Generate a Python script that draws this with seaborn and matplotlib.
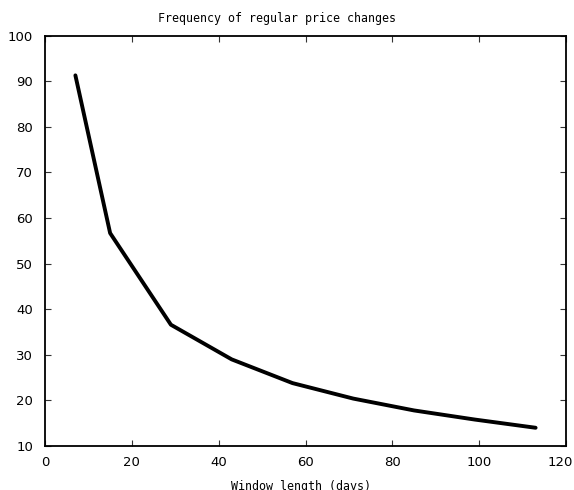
import matplotlib
matplotlib.use("Agg")
import matplotlib.pyplot as plt
import matplotlib.transforms as mtransforms
import seaborn as sns
import pandas as pd

window_days = [7, 15, 29, 43, 57, 71, 85, 99, 113]
frequency = [91.3, 56.7, 36.6, 29.0, 23.8, 20.4, 17.8, 15.8, 14.0]
x_ticks = [0, 20, 40, 60, 80, 100, 120]
y_ticks = [10, 20, 30, 40, 50, 60, 70, 80, 90, 100]
title = "Frequency of regular price changes"
xlabel = "Window length (days)"

sns.set_style("ticks")
plt.rcParams['font.family'] = ['DejaVu Sans']

df = pd.DataFrame({"days": window_days, "freq": frequency})

fig = plt.figure(figsize=(5.74, 4.9), dpi=100)
ax = fig.add_axes([45/574, 44/490, (566-45)/574, (446-35.7)/490])
sns.lineplot(data=df, x="days", y="freq", ax=ax, color="black", linewidth=2.8)

ax.set_xlim(0, 120)
ax.set_ylim(10, 100)
ax.set_xticks(x_ticks)
ax.set_yticks(y_ticks)
ax.set_xlabel("")
ax.set_ylabel("")
ax.tick_params(direction="in", top=True, right=True, length=4, width=0.8,
               labelsize=9.5, color="#333333", labelcolor="black")
ax.tick_params(axis="y", pad=8.5)
ax.tick_params(axis="x", pad=7)
for s in ax.spines.values():
    s.set_visible(True)
    s.set_linewidth(1.3)
    s.set_color("black")

fig.canvas.draw()
last = ax.get_xticklabels()[-1]
last.set_transform(last.get_transform() +
                   mtransforms.ScaledTranslation(-6/100, 0, fig.dpi_scale_trans))

fig.text(277/574, 1 - 18.5/490, title, ha="center", va="center",
         family="DejaVu Sans Mono", fontsize=8.4, color="black")
fig.text(301/574, 1 - 479.5/490, xlabel, ha="center", va="top",
         family="DejaVu Sans Mono", fontsize=8.4, color="black")

fig.savefig("out.png", dpi=100)
